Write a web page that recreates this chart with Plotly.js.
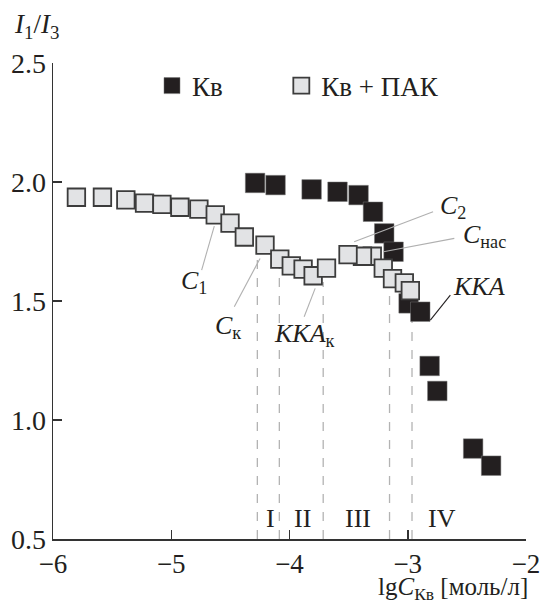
<!DOCTYPE html>
<html><head><meta charset="utf-8">
<script src="https://cdn.plot.ly/plotly-3.0.1.min.js"></script>
<style>html,body{margin:0;padding:0;background:#fff}</style>
</head><body><div id="chart" style="width:543px;height:605px"></div>
<script>
// Кв (surfactant alone)
const kvX = [-4.291, -4.118, -3.813, -3.594, -3.416, -3.294, -3.199, -3.120, -2.993, -2.894, -2.815, -2.750, -2.447, -2.295];
const kvY = [1.996, 1.987, 1.969, 1.959, 1.945, 1.875, 1.784, 1.707, 1.490, 1.455, 1.227, 1.122, 0.880, 0.808];
// Кв + ПАК
const pakX = [-5.802, -5.582, -5.384, -5.226, -5.079, -4.927, -4.766, -4.628, -4.503, -4.382, -4.207, -4.082, -3.985, -3.885, -3.800, -3.687, -3.300, -3.383, -3.505, -3.207, -3.129, -3.029, -2.978];
const pakY = [1.936, 1.936, 1.925, 1.911, 1.906, 1.894, 1.886, 1.862, 1.827, 1.769, 1.735, 1.676, 1.648, 1.634, 1.606, 1.638, 1.688, 1.688, 1.695, 1.638, 1.594, 1.576, 1.544];
// region boundaries (dashed lines)
const boundX = [-4.272, -4.086, -3.715, -3.154, -2.964];
const boundTop = [1.70, 1.65, 1.58, 1.60, 1.54];
const regionLabels = ['I', 'II', 'III', 'IV'];
const regionX = [-4.164, -3.887, -3.421, -2.710];
const regionY = 0.585;
const xTicks = [-6, -5, -4, -3, -2];
const yTicks = [0.5, 1.0, 1.5, 2.0, 2.5];
// callout labels and leader lines
const callTexts = ['<i>C</i><sub>1</sub>', '<i>C</i><sub>к</sub>', '<i>KKA</i><sub>к</sub>', '<i>C</i><sub>2</sub>', '<i>C</i><sub>нас</sub>', '<i>KKA</i>'];
const callX = [-4.935, -4.650, -4.145, -2.745, -2.553, -2.632];
const callY = [1.580, 1.392, 1.358, 1.894, 1.775, 1.560];
const leadX0 = [-4.743, -4.467, -3.876, -2.786, -2.606, -2.640];
const leadY0 = [1.630, 1.476, 1.434, 1.875, 1.763, 1.525];
const leadX1 = [-4.636, -4.249, -3.783, -3.453, -3.205, -2.809];
const leadY1 = [1.815, 1.679, 1.553, 1.749, 1.707, 1.420];
const leadColor = ['#b0b0b0', '#b0b0b0', '#b0b0b0', '#b0b0b0', '#b0b0b0', '#231f20'];

const FONT = '"Liberation Serif", "Times New Roman", serif';
const INK = '#231f20';

const traces = [
  {x: kvX, y: kvY, type: 'scatter', mode: 'markers', name: 'Кв', legend: 'legend',
   marker: {symbol: 'square', size: 19.5, color: INK, line: {color: '#777', width: 0.5}}},
  {x: pakX, y: pakY, type: 'scatter', mode: 'markers', name: 'Кв + ПАК', legend: 'legend2',
   marker: {symbol: 'square', size: 17.5, color: '#e2e3e5', line: {color: '#3c3c3c', width: 1.8}}}
];

const shapes = [];
boundX.forEach((bx, i) => shapes.push({type: 'line', xref: 'x', yref: 'y', layer: 'below',
  x0: bx, x1: bx, y0: 0.5, y1: boundTop[i], line: {color: '#b3b3b3', width: 1.3, dash: 'dash'}}));
leadX0.forEach((lx, i) => shapes.push({type: 'line', xref: 'x', yref: 'y',
  x0: lx, y0: leadY0[i], x1: leadX1[i], y1: leadY1[i], line: {color: leadColor[i], width: 1.1}}));

const annotations = [];
regionLabels.forEach((t, i) => annotations.push({x: regionX[i], y: regionY, xref: 'x', yref: 'y',
  text: t, showarrow: false, font: {size: 26}}));
callTexts.forEach((t, i) => annotations.push({x: callX[i], y: callY[i], xref: 'x', yref: 'y',
  text: t, showarrow: false, xanchor: 'left', yanchor: 'middle', font: {size: 26}}));
annotations.push({xref: 'paper', yref: 'paper', x: -0.087, y: 1.078, xanchor: 'left', yanchor: 'middle',
  text: '<i>I</i><sub>1</sub>/<i>I</i><sub>3</sub>', showarrow: false, font: {size: 27}});
annotations.push({xref: 'paper', yref: 'paper', x: 1.0085, y: -0.1405, xanchor: 'right', yanchor: 'bottom',
  text: 'lg<i>C</i><sub>Кв</sub> [моль/л]', showarrow: false, font: {size: 25}});

const legendCommon = {orientation: 'h', xanchor: 'left', yanchor: 'top', bgcolor: 'rgba(0,0,0,0)',
  font: {size: 27, family: FONT, color: INK}};

const layout = {
  width: 543, height: 605,
  margin: {l: 53, r: 17, t: 63, b: 66},
  paper_bgcolor: '#fff', plot_bgcolor: '#fff',
  font: {family: FONT, size: 26, color: INK},
  showlegend: true,
  legend: Object.assign({x: 0.2093, y: 1.003}, legendCommon),
  legend2: Object.assign({x: 0.4827, y: 1.003}, legendCommon),
  xaxis: {range: [-6, -2], tickvals: xTicks, ticks: 'inside', ticklen: 9, tickwidth: 1.5, tickcolor: '#333',
    showline: true, linecolor: '#333', linewidth: 1.5, showgrid: false, zeroline: false,
    tickfont: {size: 27}},
  yaxis: {range: [0.5, 2.5], tickvals: yTicks, tickformat: '.1f', ticks: 'inside', ticklen: 9, tickwidth: 1.5,
    tickcolor: '#333', showline: true, linecolor: '#333', linewidth: 1.5, showgrid: false, zeroline: false,
    tickfont: {size: 28}},
  shapes: shapes,
  annotations: annotations
};

Plotly.newPlot('chart', traces, layout, {displayModeBar: false, staticPlot: true});
</script></body></html>
